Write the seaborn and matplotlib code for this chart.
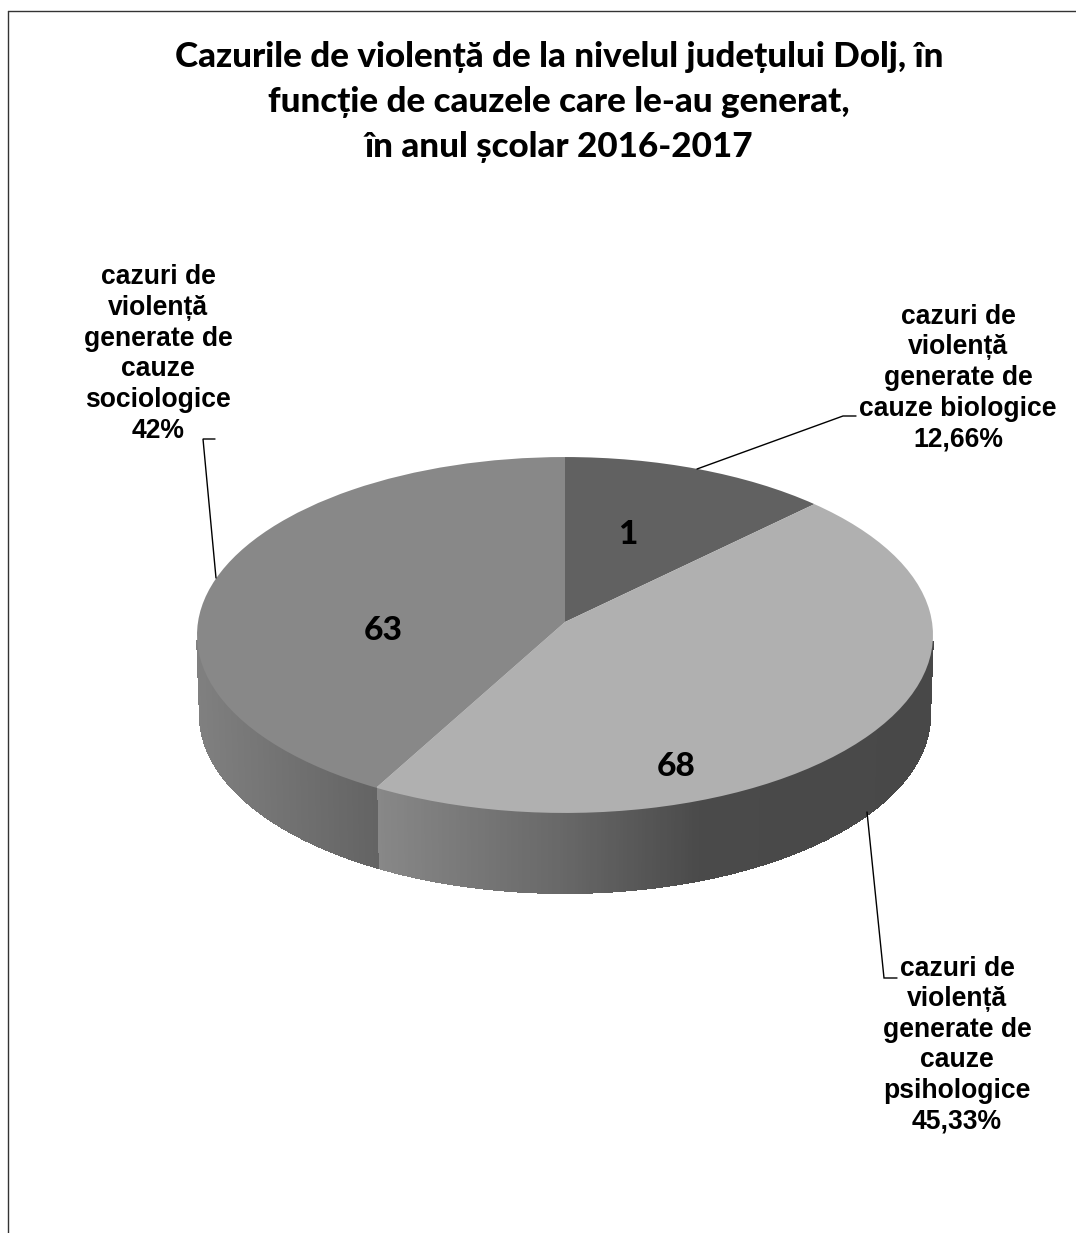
# -*- coding: utf-8 -*-
import numpy as np
import matplotlib
matplotlib.use("Agg")
import matplotlib.pyplot as plt
import seaborn as sns
from matplotlib.collections import PolyCollection
from matplotlib.transforms import Transform

# data
titlu = "Cazurile de violență de la nivelul județului Dolj, în\nfuncție de cauzele care le-au generat,\nîn anul școlar 2016-2017"
procente = [12.66, 45.33, 42.0]
etichete_felii = ["1", "68", "63"]
etichete = [
    "cazuri de\nviolență\ngenerate de\ncauze biologice\n12,66%",
    "cazuri de\nviolență\ngenerate de\ncauze\npsihologice\n45,33%",
    "cazuri de\nviolență\ngenerate de\ncauze\nsociologice\n42%",
]
culori = sns.color_palette(["#616161", "#b0b0b0", "#888888"])

# shading of the pie rim, gray level against pixel x
rim_x = {1: [375, 560, 700, 934], 2: [197, 375]}
rim_gri = {1: [136, 104, 74, 72], 2: [128, 100]}

# pie geometry in pixels, with perspective so the centre sits above the ellipse middle
cx, cy = 565, 622
bx, ay, k = 367, 177, 0.073
adancime = 80


def proiectie(x, y, jos=0.0):
    w = 1 + k * y
    s = 1 - 0.008 * jos
    return cx + s * bx * x / w, cy - ay * y / w + adancime * jos


class Perspectiva(Transform):
    input_dims = 2
    output_dims = 2

    def transform_non_affine(self, values):
        px, py = proiectie(values[:, 0], values[:, 1])
        return np.column_stack([px, py])


sns.set_theme(style="white")
plt.rcParams["font.family"] = ["Liberation Sans", "DejaVu Sans"]

fig = plt.figure(figsize=(10.76, 12.33), dpi=100)
ax = fig.add_axes([0, 0, 1, 1])

felii, _ = ax.pie(procente, colors=culori, startangle=90, counterclock=False,
                  wedgeprops={"linewidth": 0})
ax.set_aspect("auto")
ax.set_xlim(0, 1076)
ax.set_ylim(1233, 0)
ax.axis("off")

transf = Perspectiva() + ax.transData
for felie in felii:
    felie.set_transform(transf)
    felie.set_zorder(3)

# rim, only the front part shows
for i in [1, 2]:
    t = np.radians(np.linspace(felii[i].theta1, felii[i].theta2, 300))
    t = t[np.sin(t) < -k - 0.03]
    if i == 1:
        t = t[::-1]
    sus_x, sus_y = proiectie(np.cos(t), np.sin(t))
    jos_x, jos_y = proiectie(np.cos(t), np.sin(t), 1.0)
    poligoane = []
    nuante = []
    for j in range(len(t) - 1):
        poligoane.append([(sus_x[j], sus_y[j]), (sus_x[j + 1], sus_y[j + 1]),
                          (jos_x[j + 1], jos_y[j + 1]), (jos_x[j], jos_y[j])])
        g = np.interp((sus_x[j] + sus_x[j + 1]) / 2, rim_x[i], rim_gri[i]) / 255
        nuante.append((g, g, g))
    ax.add_collection(PolyCollection(poligoane, facecolors=nuante, edgecolors=nuante,
                                     linewidths=0.8, antialiaseds=False, zorder=2))

# leader lines
lin = {"color": "black", "lw": 1.0, "zorder": 4, "solid_joinstyle": "miter"}
ax.plot([697, 843, 856], [469, 416, 416], **lin)
ax.plot([867, 884, 897], [812, 978, 978], **lin)
ax.plot([216, 203, 215], [578, 439, 439], **lin)

# border, only left and top fall inside the picture
ax.plot([8, 8], [1233, 10.5], color="#333333", lw=1.0, zorder=1)
ax.plot([8, 1076], [10.5, 10.5], color="#333333", lw=1.0, zorder=1)

ax.text(559, 102, titlu, ha="center", va="center", fontsize=25.2, fontweight=900,
        family=["Lato", "DejaVu Sans"], linespacing=1.5, color="black")

pozitii_felii = [(628, 535), (676, 766), (383, 630)]
for txt, (px, py) in zip(etichete_felii, pozitii_felii):
    ax.text(px, py, txt, ha="center", va="center", fontsize=24, fontweight=900,
            family=["Lato", "DejaVu Sans"], color="black", zorder=5)

pozitii = [(958, 378), (957, 1045), (158, 354)]
for txt, (px, py) in zip(etichete, pozitii):
    ax.text(px, py, txt, ha="center", va="center", fontsize=19.1, fontweight="bold",
            linespacing=1.23, color="black", zorder=5)

fig.savefig("out.png", dpi=100, facecolor="white")
